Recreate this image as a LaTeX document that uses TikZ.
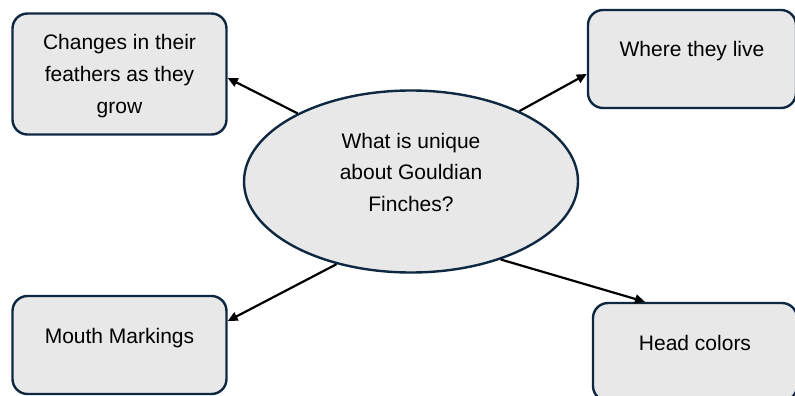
\documentclass[tikz,border=0pt]{standalone}
\usepackage{fontspec}
\setmainfont{Liberation Sans}
\usepackage{tikz}
\usetikzlibrary{shapes.geometric,arrows.meta}
\definecolor{finchnavy}{HTML}{0E2841}
\definecolor{finchfill}{HTML}{E8E8E8}

\begin{document}
\begin{tikzpicture}[x=1pt, y=-1pt,
  every node/.style={font=\fontsize{21}{31.5}\selectfont, inner sep=0pt},
  topicbox/.style={draw=finchnavy, line width=2.4pt, fill=finchfill, rounded corners=15pt, minimum height=98pt, align=center},
  oneline/.style={text height=15pt, text depth=19pt},
  question/.style={ellipse, draw=finchnavy, line width=2.4pt, fill=finchfill, minimum width=334pt, minimum height=182pt, align=center, text height=78pt, text depth=19pt},
  link/.style={-{Triangle[length=10pt,width=9pt]}, line width=2.2pt, black}]
\useasboundingbox (0,0) rectangle (795,396);

% centre
\node[question] (q) at (411,181.5) {What is unique\\about Gouldian\\Finches?};

% the four topics
\node[topicbox, minimum width=214pt, minimum height=121pt, text height=78pt, text depth=0pt] (feathers) at (119.5,74) {Changes in their\\feathers as they\\grow};
\node[topicbox, oneline, minimum width=208pt] (home) at (692,59) {Where they live};
\node[topicbox, oneline, minimum width=214pt] (mouth) at (119.5,345) {Mouth Markings};
\node[topicbox, oneline, minimum width=204pt] (head) at (695,352) {Head colors};

% arrows
\draw[link] (q.149) -- ([yshift=-4pt]feathers.east);
\draw[link] (q.33) -- ([yshift=-15pt]home.west);
\draw[link] (q.228.5) -- ([yshift=24pt]mouth.east);
\draw[link] (q.319.6) -- ([xshift=-50pt]head.north);
\end{tikzpicture}
\end{document}
